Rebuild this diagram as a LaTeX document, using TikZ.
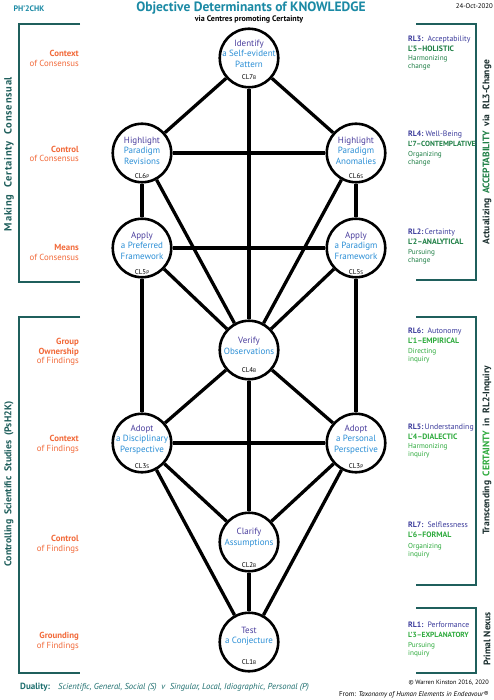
\documentclass[tikz,border=0pt]{standalone}
\usepackage{fontspec}
\setmainfont{PT Sans}
\usetikzlibrary{calc}
\definecolor{tealT}{HTML}{1B8AA5}
\definecolor{brk}{HTML}{1F5F5C}
\definecolor{orangeL}{HTML}{F26A3A}
\definecolor{purp}{HTML}{4B3F9E}
\definecolor{lblue}{HTML}{2B8FD6}
\definecolor{rlblue}{HTML}{3C3C9C}
\definecolor{greenA}{HTML}{1E7F45}
\definecolor{greenB}{HTML}{2DAA3C}
\definecolor{darkT}{HTML}{1A2E2E}
\definecolor{dual}{HTML}{1E6F6F}
\begin{document}
\begin{tikzpicture}[x=1pt,y=-1pt,
  cl/.style={circle, draw, line width=2.6pt, fill=white, minimum size=58.5pt, inner sep=0pt},
  edge/.style={line width=3.3pt},
  ntxt/.style={align=center, font=\fontsize{9}{10.5}\selectfont, inner sep=0pt, text=lblue},
  cltag/.style={font=\fontsize{7}{7}\selectfont, inner sep=0pt},
  lab/.style={align=right, anchor=east, font=\fontsize{8.8}{9.6}\selectfont, text=orangeL, inner sep=0pt},
  rlhead/.style={align=left, anchor=west, font=\fontsize{7.8}{10}\selectfont, inner sep=0pt},
  rlsub/.style={align=left, anchor=west, font=\fontsize{7.2}{7.8}\selectfont, inner sep=0pt},
  brack/.style={draw=brk, line width=2pt},
  sidetxt/.style={rotate=90, font=\fontsize{9.5}{10}\selectfont\bfseries, inner sep=0pt}
]
\useasboundingbox (0,0) rectangle (494,700);
\fill[white] (0,0) rectangle (494,700);

% header
\node[font=\fontsize{8}{9}\selectfont\bfseries, text=tealT, inner sep=0pt] (ph) at (29,9) {PH’2CHK};
\node[font=\fontsize{13.5}{14}\selectfont\bfseries, text=tealT, inner sep=0pt] (title) at (251,8) {Objective Determinants of KNOWLEDGE};
\node[font=\fontsize{8}{8}\selectfont\bfseries, inner sep=0pt] (sub) at (249,19.5) {via Centres promoting Certainty};
\node[font=\fontsize{6.8}{7}\selectfont, anchor=east, inner sep=0pt] (date) at (493,6) {24-Oct-2020};

% circles
\node[cl] (n7) at (249,58) {};
\node[cl] (n6p) at (142,153) {};
\node[cl] (n6s) at (356,153) {};
\node[cl] (n5p) at (142,248) {};
\node[cl] (n5s) at (356,248) {};
\node[cl] (n4) at (249,350) {};
\node[cl] (n3s) at (142,443) {};
\node[cl] (n3p) at (356,443) {};
\node[cl] (n2) at (249,542) {};
\node[cl] (n1) at (249,642) {};

% connectors
\draw[edge] (n7) -- (n6p);
\draw[edge] (n7) -- (n6s);
\draw[edge] (n7) -- (n4);
\draw[edge] (n6p) -- (n6s);
\draw[edge] (n6p) -- (n5p);
\draw[edge] (n6s) -- (n5s);
\draw[edge] (n6p) -- (n4);
\draw[edge] (n6s) -- (n4);
\draw[edge] (n5p) -- (n5s);
\draw[edge] (n5p) -- (n4);
\draw[edge] (n5s) -- (n4);
\draw[edge] (n5p) -- (n3s);
\draw[edge] (n5s) -- (n3p);
\draw[edge] (n4) -- (n3s);
\draw[edge] (n4) -- (n3p);
\draw[edge] (n4) -- (n2);
\draw[edge] (n3s) -- (n3p);
\draw[edge] (n3s) -- (n2);
\draw[edge] (n3p) -- (n2);
\draw[edge] (n3s) -- (n1);
\draw[edge] (n3p) -- (n1);
\draw[edge] (n2) -- (n1);

% node texts
\node[ntxt] (t7) at (249,53.5) {\textcolor{purp}{Identify}\\a Self-evident\\Pattern};
\node[cltag] (c7) at (249,77) {CL7{\fontsize{5.2}{5}\selectfont B}};
\node[ntxt] (t6p) at (142,150.5) {\textcolor{purp}{Highlight}\\Paradigm\\Revisions};
\node[cltag] (c6p) at (142,176) {CL6{\fontsize{5.2}{5}\selectfont P}};
\node[ntxt] (t6s) at (356,150.5) {\textcolor{purp}{Highlight}\\Paradigm\\Anomalies};
\node[cltag] (c6s) at (356,176) {CL6{\fontsize{5.2}{5}\selectfont S}};
\node[ntxt] (t5p) at (142,245.5) {\textcolor{purp}{Apply}\\a Preferred\\Framework};
\node[cltag] (c5p) at (142,272) {CL5{\fontsize{5.2}{5}\selectfont P}};
\node[ntxt] (t5s) at (356,245.5) {\textcolor{purp}{Apply}\\a Paradigm\\Framework};
\node[cltag] (c5s) at (356,272) {CL5{\fontsize{5.2}{5}\selectfont S}};
\node[ntxt] (t4) at (249,346) {\textcolor{purp}{Verify}\\Observations};
\node[cltag] (c4) at (249,370) {CL4{\fontsize{5.2}{5}\selectfont B}};
\node[ntxt] (t3s) at (142,439.5) {\textcolor{purp}{Adopt}\\a Disciplinary\\Perspective};
\node[cltag] (c3s) at (142,466) {CL3{\fontsize{5.2}{5}\selectfont S}};
\node[ntxt] (t3p) at (356,439.5) {\textcolor{purp}{Adopt}\\a Personal\\Perspective};
\node[cltag] (c3p) at (356,466) {CL3{\fontsize{5.2}{5}\selectfont P}};
\node[ntxt] (t2) at (249,537.5) {\textcolor{purp}{Clarify}\\Assumptions};
\node[cltag] (c2) at (249,565) {CL2{\fontsize{5.2}{5}\selectfont B}};
\node[ntxt] (t1) at (249,636.5) {\textcolor{purp}{Test}\\a Conjecture};
\node[cltag] (c1) at (249,662) {CL1{\fontsize{5.2}{5}\selectfont B}};

% left brackets
\draw[brack] (80,24) -- (19,24) -- (19,282) -- (80,282);
\draw[brack] (80,317) -- (19,317) -- (19,673) -- (80,673);
\node[sidetxt, text=brk, font=\fontsize{10.5}{11}\selectfont\bfseries\addfontfeature{LetterSpace=7}] (ls1) at (9,154) {Making\ \ Certainty\ \ Consensual};
\node[sidetxt, text=brk, font=\fontsize{9.8}{11}\selectfont\bfseries] (ls2) at (9,484) {Controlling\ \ Scientific\ \ Studies\ \ (PsH2K)};

% left labels
\node[lab] (l1) at (79,58.5) {\textbf{Context}\\of Consensus};
\node[lab] (l2) at (79,154) {\textbf{Control}\\of Consensus};
\node[lab] (l3) at (79,252.5) {\textbf{Means}\\of Consensus};
\node[lab] (l4) at (79,352) {\textbf{Group}\\\textbf{Ownership}\\of Findings};
\node[lab] (l5) at (79,444) {\textbf{Context}\\of Findings};
\node[lab] (l6) at (79,544.5) {\textbf{Control}\\of Findings};
\node[lab] (l7) at (79,641.5) {\textbf{Grounding}\\of Findings};

% right brackets
\draw[brack] (416,24) -- (476,24) -- (476,280) -- (416,280);
\draw[brack] (416,317) -- (476,317) -- (476,585) -- (416,585);
\draw[brack] (416,608) -- (476,608) -- (476,673) -- (416,673);
\node[sidetxt, text=darkT] (rs1) at (487,152) {Actualizing\ \ \textcolor{greenA}{ACCEPTABILITY}\ \ via\ \ RL3-Change};
\node[sidetxt, text=darkT] (rs2) at (487,450) {Transcending\ \ \textcolor{greenB}{CERTAINTY}\ \ in\ \ RL2-Inquiry};
\node[sidetxt, text=darkT] (rs3) at (487,639) {Primal Nexus};

% right labels
\node[rlhead] (r3) at (408,44) {\textcolor{rlblue}{\textbf{RL3:}\ \ Acceptability}\\\textcolor{greenA}{\textbf{L’5–HOLISTIC}}};
\node[rlsub, text=greenA] (r3s) at (408,63) {Harmonizing\\change};
\node[rlhead] (r4) at (408,139) {\textcolor{rlblue}{\textbf{RL4:}\ Well-Being}\\\textcolor{greenA}{\fontsize{7.4}{10}\selectfont\textbf{L’7–CONTEMPLATIVE}}};
\node[rlsub, text=greenA] (r4s) at (408,158.5) {Organizing\\change};
\node[rlhead] (r2) at (408,237) {\textcolor{rlblue}{\textbf{RL2:}\,Certainty}\\\textcolor{greenA}{\textbf{L’2–ANALYTICAL}}};
\node[rlsub, text=greenA] (r2s) at (408,256.5) {Pursuing\\change};
\node[rlhead] (r6) at (408,335.5) {\textcolor{rlblue}{\textbf{RL6:}\ \ Autonomy}\\\textcolor{greenB}{\textbf{L’1–EMPIRICAL}}};
\node[rlsub, text=greenB] (r6s) at (408,356) {Directing\\inquiry};
\node[rlhead] (r5) at (408,432) {\textcolor{rlblue}{\textbf{RL5:}\,Understanding}\\\textcolor{greenB}{\textbf{L’4–DIALECTIC}}};
\node[rlsub, text=greenB] (r5s) at (408,451) {Harmonizing\\inquiry};
\node[rlhead] (r7) at (408,530) {\textcolor{rlblue}{\textbf{RL7:}\ \ Selflessness}\\\textcolor{greenB}{\textbf{L’6–FORMAL}}};
\node[rlsub, text=greenB] (r7s) at (408,550.5) {Organizing\\inquiry};
\node[rlhead] (r1) at (408,630) {\textcolor{rlblue}{\textbf{RL1:}\ \ Performance}\\\textcolor{greenB}{\fontsize{7.4}{10}\selectfont\textbf{L’3–EXPLANATORY}}};
\node[rlsub, text=greenB] (r1s) at (408,649.5) {Pursuing\\inquiry};

% footer
\node[font=\fontsize{9}{9}\selectfont\bfseries, text=dual, anchor=west, inner sep=0pt] (dl) at (20,687) {Duality:};
\node[font=\fontsize{8.6}{9}\selectfont\itshape, text=dual, anchor=west, inner sep=0pt] (dt) at (58,687) {Scientific, General, Social (S)\ \ v\ \ Singular, Local, Idiographic, Personal (P)};
\node[anchor=east, align=right, inner sep=0pt] (copy) at (489,688.5) {{\fontsize{6.3}{7}\selectfont © Warren Kinston 2016, 2020}\\{\fontsize{7}{7}\selectfont From: \textit{Taxonomy of Human Elements in Endeavour}®}};
\end{tikzpicture}
\end{document}
